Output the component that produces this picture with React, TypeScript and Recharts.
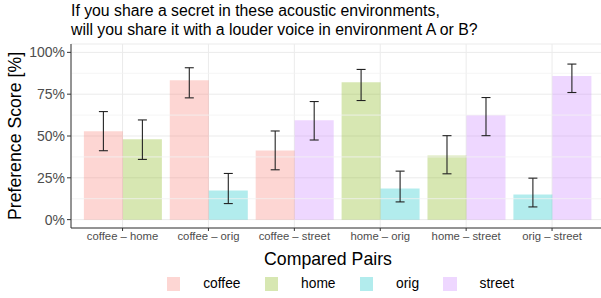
import React from 'react';
import {
  BarChart,
  Bar,
  XAxis,
  YAxis,
  CartesianGrid,
  ErrorBar,
  Cell,
  ReferenceLine,
} from 'recharts';

// ---- data ----
const pairs = [
  'coffee – home',
  'coffee – orig',
  'coffee – street',
  'home – orig',
  'home – street',
  'orig – street',
];
const envA = ['coffee', 'coffee', 'coffee', 'home', 'home', 'orig'];
const envB = ['home', 'orig', 'street', 'orig', 'street', 'street'];

const scoreA = [52.8, 83.4, 41.4, 82.2, 38.4, 15.0];
const lowA = [41.2, 72.8, 29.8, 71.2, 27.4, 7.6];
const highA = [64.6, 90.8, 53.0, 89.8, 50.2, 24.8];

const scoreB = [48.0, 17.4, 59.4, 18.6, 62.6, 85.8];
const lowB = [36.0, 9.6, 47.6, 10.6, 50.2, 76.0];
const highB = [59.6, 27.6, 70.6, 29.0, 73.0, 93.0];

const envNames = ['coffee', 'home', 'orig', 'street'];
const envColors = ['#F8766D', '#7CAE00', '#00BFC4', '#C77CFF'];

const yTicks = [0, 25, 50, 75, 100];
const yMinor = [12.5, 37.5, 62.5, 87.5];

const titleLines = [
  'If you share a secret in these acoustic environments,',
  'will you share it with a louder voice in environment A or B?',
];

const colorOf = (env: string) => envColors[envNames.indexOf(env)];

const data = pairs.map((p, i) => ({
  pair: p,
  envA: envA[i],
  envB: envB[i],
  a: scoreA[i],
  aErr: [scoreA[i] - lowA[i], highA[i] - scoreA[i]],
  b: scoreB[i],
  bErr: [scoreB[i] - lowB[i], highB[i] - scoreB[i]],
}));

const FONT = '"Liberation Sans", Arial, Helvetica, sans-serif';

const YTitle = (props: any) => {
  const vb = props.viewBox || { x: 0, y: 44, width: 71, height: 184 };
  const cx = 15;
  const cy = vb.y + vb.height / 2;
  return (
    <text
      x={cx}
      y={cy}
      transform={`rotate(-90 ${cx} ${cy})`}
      textAnchor="middle"
      dominantBaseline="central"
      fontSize={17.7}
      fill="#000"
      fontFamily={FONT}
    >
      Preference Score [%]
    </text>
  );
};

const XTitle = () => (
  <text
    x={328}
    y={264.5}
    textAnchor="middle"
    fontSize={17.7}
    fill="#000"
    fontFamily={FONT}
  >
    Compared Pairs
  </text>
);

export default function App() {
  return (
    <div
      style={{
        position: 'absolute',
        left: 0,
        top: 0,
        width: 601,
        height: 298,
        overflow: 'hidden',
        background: '#fff',
        fontFamily: FONT,
      }}
    >
      <div
        style={{
          position: 'absolute',
          left: 71,
          top: 0.5,
          fontSize: 15.8,
          lineHeight: '19px',
          color: '#000',
          whiteSpace: 'nowrap',
        }}
      >
        {titleLines.map((t) => (
          <div key={t}>{t}</div>
        ))}
      </div>
      <BarChart
        width={610}
        height={298}
        data={data}
        margin={{ top: 44, right: 6.4, bottom: 40, left: 0 }}
        barCategoryGap="5%"
        barGap={0}
        style={{ position: 'absolute', left: 0, top: 0 }}
      >
        <CartesianGrid stroke="#EBEBEB" strokeWidth={1} />
        {yMinor.map((v) => (
          <ReferenceLine key={v} y={v} stroke="#F3F3F3" strokeWidth={0.8} />
        ))}
        <XAxis
          dataKey="pair"
          type="category"
          interval={0}
          padding={{ left: 8.6, right: 8.6 }}
          height={30}
          axisLine={{ stroke: '#333333', strokeWidth: 1 }}
          tickLine={{ stroke: '#333333' }}
          tickSize={3}
          tickMargin={1}
          tick={{ fontSize: 11.3, fill: '#4D4D4D', fontFamily: FONT }}
          label={<XTitle />}
        />
        <XAxis
          xAxisId="top"
          orientation="top"
          dataKey="pair"
          type="category"
          padding={{ left: 8.6, right: 8.6 }}
          height={0}
          tick={false}
          tickLine={false}
          axisLine={{ stroke: '#333333', strokeWidth: 1 }}
        />
        <YAxis
          type="number"
          domain={[-5, 105]}
          ticks={yTicks}
          allowDataOverflow
          width={71}
          axisLine={{ stroke: '#333333', strokeWidth: 1 }}
          tickLine={{ stroke: '#333333' }}
          tickSize={4}
          tickMargin={2}
          tickFormatter={(v: number) => `${v}%`}
          tick={{ fontSize: 14, fill: '#4D4D4D', fontFamily: FONT }}
          label={<YTitle />}
        />
        <Bar dataKey="a" isAnimationActive={false} fillOpacity={0.3}>
          {data.map((d, i) => (
            <Cell key={`a${i}`} fill={colorOf(d.envA)} fillOpacity={0.3} />
          ))}
          <ErrorBar
            dataKey="aErr"
            direction="y"
            width={4.5}
            stroke="#222"
            strokeWidth={1.1}
            isAnimationActive={false}
          />
        </Bar>
        <Bar dataKey="b" isAnimationActive={false} fillOpacity={0.3}>
          {data.map((d, i) => (
            <Cell key={`b${i}`} fill={colorOf(d.envB)} fillOpacity={0.3} />
          ))}
          <ErrorBar
            dataKey="bErr"
            direction="y"
            width={4.5}
            stroke="#222"
            strokeWidth={1.1}
            isAnimationActive={false}
          />
        </Bar>
      </BarChart>
      <div
        style={{
          position: 'absolute',
          left: 166.7,
          top: 277,
          height: 13.5,
          display: 'flex',
          alignItems: 'center',
          fontSize: 13.8,
          color: '#000',
          whiteSpace: 'nowrap',
        }}
      >
        {envNames.map((n, i) => (
          <div
            key={n}
            style={{ display: 'flex', alignItems: 'center', marginRight: 24 }}
          >
            <div
              style={{
                width: 13.5,
                height: 13.5,
                background: envColors[i],
                opacity: 0.3,
                marginRight: 23,
              }}
            />
            <span>{n}</span>
          </div>
        ))}
      </div>
    </div>
  );
}
